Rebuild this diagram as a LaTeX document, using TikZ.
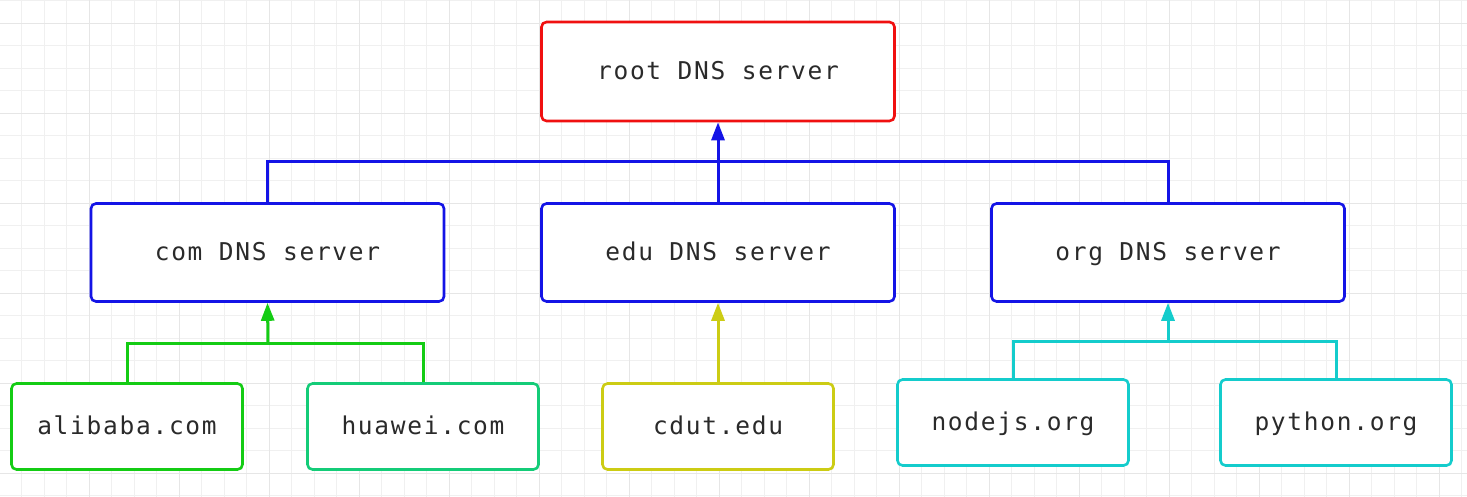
\documentclass[tikz,border=0pt]{standalone}
\usepackage{fontspec}
\newfontfamily\boxfont[LetterSpace=7]{DejaVu Sans Mono}
\usetikzlibrary{arrows.meta}
\definecolor{gridminor}{HTML}{F0F0F0}
\definecolor{gridmajor}{HTML}{E6E6E6}
\definecolor{cred}{HTML}{F01010}
\definecolor{cblue}{HTML}{1414E6}
\definecolor{cgreen}{HTML}{14CC14}
\definecolor{cteal}{HTML}{14CC78}
\definecolor{cyellow}{HTML}{CCCC14}
\definecolor{ccyan}{HTML}{14CCCC}
\definecolor{ctext}{HTML}{2A2A2A}
\tikzset{
  boxbase/.style={line width=2.6pt, rounded corners=5pt, fill=white, inner sep=0pt,
    font=\boxfont\fontsize{24.5}{28}\selectfont, text=ctext,
    text height=19pt, text depth=3pt},
  srv/.style={boxbase, draw=#1, minimum width=353pt, minimum height=98pt},
  leaf/.style={boxbase, draw=#1, minimum width=231pt, minimum height=86pt},
  conn/.style={draw=#1, line width=3pt},
  arr/.style={draw=#1, fill=#1, line width=3pt, -{Triangle[length=18pt,width=13pt]}}
}
\begin{document}
\begin{tikzpicture}[x=1pt,y=-1pt]
\useasboundingbox (0,0) rectangle (1467,497);
\fill[white] (0,0) rectangle (1467,497);
% grid
\foreach \i in {0,...,65} {
  \pgfmathsetmacro\xx{-1+22.5*\i}
  \draw[gridminor, line width=1pt] (\xx,0) -- (\xx,497);
}
\foreach \i in {0,...,22} {
  \pgfmathsetmacro\yy{0.8+22.5*\i}
  \draw[gridminor, line width=1pt] (0,\yy) -- (1467,\yy);
}
\foreach \i in {0,...,16} {
  \pgfmathsetmacro\xx{-1+90*\i}
  \draw[gridmajor, line width=1pt] (\xx,0) -- (\xx,497);
}
\foreach \i in {0,...,5} {
  \pgfmathsetmacro\yy{23.3+90*\i}
  \draw[gridmajor, line width=1pt] (0,\yy) -- (1467,\yy);
}
% nodes
\node[srv=cred, minimum height=99pt] (root) at (718,71.5) {root DNS server};
\node[srv=cblue] (com) at (267.5,252.5) {com DNS server};
\node[srv=cblue] (edu) at (718,252.5) {edu DNS server};
\node[srv=cblue] (org) at (1168,252.5) {org DNS server};
\node[leaf=cgreen] (ali) at (127,426.5) {alibaba.com};
\node[leaf=cteal] (hua) at (423,426.5) {huawei.com};
\node[leaf=cyellow] (cdut) at (718,426.5) {cdut.edu};
\node[leaf=ccyan] (node) at (1013,422.5) {nodejs.org};
\node[leaf=ccyan] (py) at (1336,422.5) {python.org};
% junctions
\coordinate (jb) at (718,162);
\coordinate (jg) at (268,343);
\coordinate (jc) at (1168,341);
% connectors
\draw[conn=cblue] (com.north) |- (jb) -| (org.north);
\draw[arr=cblue] (edu.north) -- (root.south);
\draw[conn=cgreen] (ali.north) |- (jg);
\draw[conn=cgreen] (hua.north) |- (jg);
\draw[arr=cgreen] (jg) -- (com.south);
\draw[arr=cyellow] (cdut.north) -- (edu.south);
\draw[conn=ccyan] (node.north) |- (jc) -| (py.north);
\draw[arr=ccyan] (jc) -- (org.south);
\end{tikzpicture}
\end{document}
